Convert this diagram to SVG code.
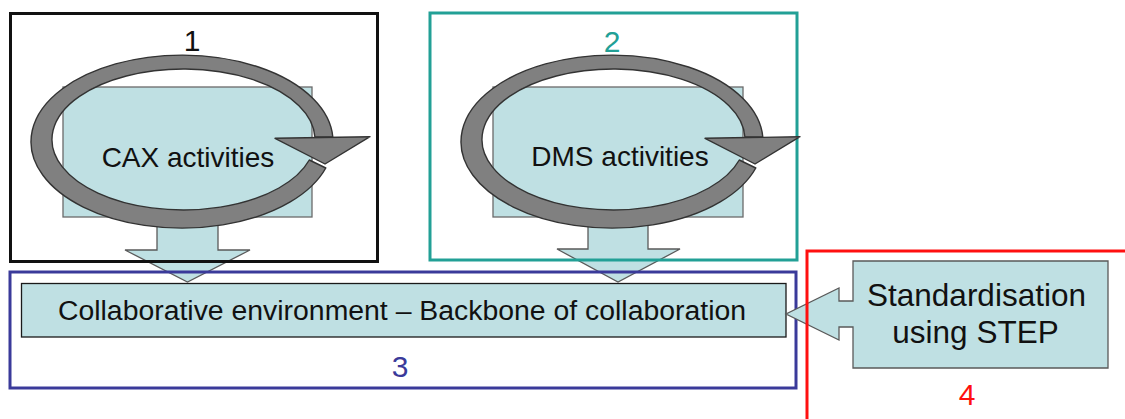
<svg xmlns="http://www.w3.org/2000/svg" width="1125" height="419" viewBox="0 0 1125 419">
<style>
.bg{fill:#ffffff}
.frame{fill:none;stroke-width:3}
.box{fill:#bfe0e3;stroke:#6a6a6a;stroke-width:1.3}
.inner{fill:#bfe0e3;stroke:#1a1a1a;stroke-width:1.3}
.ring{fill:#808080;stroke:#333333;stroke-width:1.4;stroke-linejoin:round}
.arrow{fill:#bfe0e3;stroke:#5a5a5a;stroke-width:1.3;stroke-linejoin:miter}
.t{font-family:"Liberation Sans",Arial,sans-serif;fill:#111111;text-anchor:middle}
</style>
<defs>
<g id="cycle">
<path class="ring" d="M325.8,168 A151,86.5 0 1 1 332.8,137 L314.9,137 A131.5,70.5 0 1 0 309.3,160 Z"/>
<polygon class="ring" points="275,138.3 370,136.7 325,164"/>
</g>
</defs>
<rect class="bg" x="0" y="0" width="1125" height="419"/>
<g id="connectors">
<polygon class="arrow" points="157,210 218,210 218,250 250,250 187.5,282 125,250 157,250"/>
<polygon class="arrow" points="588,210 648,210 648,249 680,249 618,282 557,249 588,249"/>
</g>
<g id="node-3">
<rect class="frame" x="10" y="272" width="786" height="116" stroke="#3a3a9a"/>
<rect class="inner" x="21.5" y="283.5" width="764.5" height="53.5"/>
<text class="t" x="402" y="320" font-size="28.4">Collaborative environment – Backbone of collaboration</text>
<text class="t" x="400" y="377" font-size="30" style="fill:#3a3a9a">3</text>
</g>
<g id="node-1">
<rect class="frame" x="10.5" y="13.5" width="367" height="248" stroke="#111111"/>
<rect class="box" x="63" y="87" width="249" height="130"/>
<use href="#cycle"/>
<text class="t" x="188" y="167" font-size="28">CAX activities</text>
<text class="t" x="192" y="51" font-size="30">1</text>
</g>
<g id="node-2">
<rect class="frame" x="430" y="13" width="367" height="247" stroke="#22a096"/>
<rect class="box" x="493" y="87" width="250" height="130"/>
<use href="#cycle" transform="translate(430,0)"/>
<text class="t" x="620" y="166" font-size="28">DMS activities</text>
<text class="t" x="612" y="52" font-size="30" style="fill:#22a096">2</text>
</g>
<g id="node-4">
<path class="arrow" d="M853,261 L1108,261 L1108,368 L853,368 L853,327 L839,327 L839,340 L786,314 L839,288 L839,301 L853,301 Z"/>
<rect class="frame" x="807" y="251" width="330" height="200" stroke="#ff1010" stroke-width="2.5"/>
<text class="t" x="976.5" y="306" font-size="31.5">Standardisation</text>
<text class="t" x="975.5" y="343" font-size="31.5">using STEP</text>
<text class="t" x="967" y="405" font-size="30" style="fill:#ff1010">4</text>
</g>
</svg>
